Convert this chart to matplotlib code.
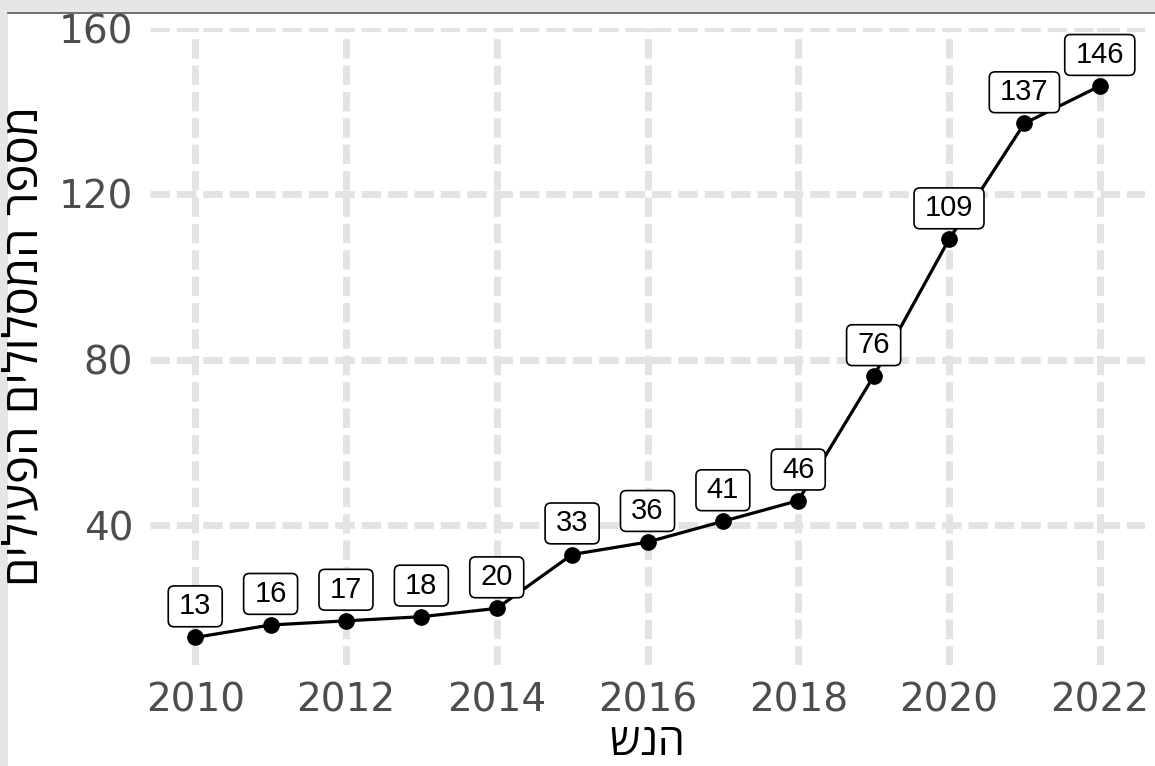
import numpy as np
import matplotlib
matplotlib.use("Agg")
import matplotlib.pyplot as plt
from matplotlib.patches import Rectangle, BoxStyle
from matplotlib.lines import Line2D

years = [2010, 2011, 2012, 2013, 2014, 2015, 2016, 2017, 2018, 2019, 2020, 2021, 2022]
routes = [13, 16, 17, 18, 20, 33, 36, 41, 46, 76, 109, 137, 146]
x_ticks = [2010, 2012, 2014, 2016, 2018, 2020, 2022]
y_ticks = [40, 80, 120, 160]
x_title = "שנה"
y_title = "מספר המסלולים הפעילים"


def label_box(x0, y0, width, height, mutation_size):
    # rounded box, a bit wider than tall (like geom_label)
    ex = 0.15 * mutation_size
    return BoxStyle.Round(pad=0.22, rounding_size=0.2)(x0 - ex, y0, width + 2 * ex, height, mutation_size)


fig = plt.figure(figsize=(11.55, 7.66), dpi=100)
ax = fig.add_axes([150 / 1155, 101 / 766, 995 / 1155, 637 / 766])

# screenshot frame
fig.patches.append(Rectangle((0, 1 - 12 / 766), 1, 12 / 766, transform=fig.transFigure,
                             facecolor="#e6e6e6", edgecolor="none", zorder=-5))
fig.patches.append(Rectangle((0, 0), 8 / 1155, 1, transform=fig.transFigure,
                             facecolor="#e6e6e6", edgecolor="none", zorder=-5))
fig.lines.append(Line2D([8 / 1155, 1], [1 - 12.5 / 766, 1 - 12.5 / 766], transform=fig.transFigure,
                        color="#555555", lw=1.2))

ax.plot(years, routes, color="black", lw=2.3, marker="o", markersize=11, zorder=3)
for yr, v in zip(years, routes):
    ax.text(yr, v + 7.5, str(v), ha="center", va="center", fontsize=21,
            family="Liberation Sans", zorder=4,
            bbox=dict(boxstyle=label_box, facecolor="white", edgecolor="black", lw=1.2))

ax.set_xlim(2009.4, 2022.6)
ax.set_ylim(6.35, 160)
ax.set_xticks(x_ticks)
ax.set_yticks(y_ticks)
ax.tick_params(length=0, labelsize=28, labelcolor="#4d4d4d", pad=12)
for lab in ax.get_xticklabels() + ax.get_yticklabels():
    lab.set_family("DejaVu Sans")

ax.grid(True, color="#e3e3e3", lw=5, linestyle=(0, (2.8, 1.0)), zorder=0)
ax.set_axisbelow(True)
for s in ax.spines.values():
    s.set_visible(False)

# no bidi in matplotlib: y title given in visual order, as in the reference
ax.set_xlabel(x_title, fontsize=31, family=["Open Sans", "DejaVu Sans"], labelpad=1)
ax.set_ylabel(y_title[::-1], fontsize=34, family=["Open Sans", "DejaVu Sans"], labelpad=8)

fig.savefig("out.png", dpi=100)
